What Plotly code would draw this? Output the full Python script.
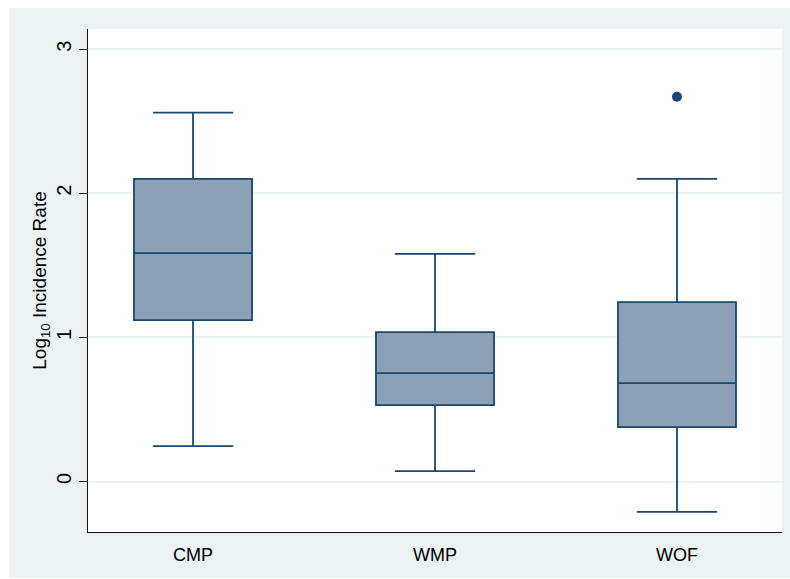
import plotly.graph_objects as go

# Summary statistics of log10 incidence rate by group
groups = ["CMP", "WMP", "WOF"]
lower_whisker = [0.246, 0.073, -0.21]
q1_vals = [1.12, 0.53, 0.378]
median_vals = [1.585, 0.752, 0.683]
q3_vals = [2.10, 1.037, 1.245]
upper_whisker = [2.56, 1.58, 2.10]

# Points beyond the whiskers
outlier_groups = ["WOF"]
outlier_vals = [2.67]

y_ticks = [0, 1, 2, 3]

navy = "#1a476f"
box_fill = "#8ca1b6"
bg_light = "#eaf2f3"

positions = list(range(len(groups)))
outlier_pos = [groups.index(g) for g in outlier_groups]

fig = go.Figure()
fig.add_trace(go.Box(
    x=positions,
    q1=q1_vals,
    median=median_vals,
    q3=q3_vals,
    lowerfence=lower_whisker,
    upperfence=upper_whisker,
    width=0.488,
    whiskerwidth=0.68,
    fillcolor=box_fill,
    line=dict(color=navy, width=1.8),
    boxpoints=False,
    showlegend=False,
    hoverinfo="skip",
))
fig.add_trace(go.Scatter(
    x=outlier_pos,
    y=outlier_vals,
    mode="markers",
    marker=dict(color=navy, size=10),
    showlegend=False,
    hoverinfo="skip",
))

# White border strips around the shaded outer region
white_strips = [
    dict(type="rect", xref="paper", yref="paper",
         x0=-0.2, x1=-0.1138, y0=-0.2, y1=1.2,
         fillcolor="white", line=dict(width=0), layer="below"),
    dict(type="rect", xref="paper", yref="paper",
         x0=-0.2, x1=1.2, y0=1.0417, y1=1.2,
         fillcolor="white", line=dict(width=0), layer="below"),
    dict(type="rect", xref="paper", yref="paper",
         x0=-0.2, x1=1.2, y0=-0.2, y1=-0.0915,
         fillcolor="white", line=dict(width=0), layer="below"),
]

fig.update_layout(
    width=790,
    height=579,
    margin=dict(l=88, r=8, t=29, b=47),
    paper_bgcolor=bg_light,
    plot_bgcolor="white",
    font=dict(family="Liberation Sans, Arial, sans-serif", size=18, color="#000"),
    shapes=white_strips,
    xaxis=dict(
        range=[-0.434, 2.434],
        tickmode="array",
        tickvals=positions,
        ticktext=groups,
        showgrid=False,
        zeroline=False,
        showline=True,
        linecolor="#111",
        linewidth=1,
        ticks="",
        ticklabelstandoff=6,
        tickfont=dict(size=18),
    ),
    yaxis=dict(
        range=[-0.35, 3.14],
        tickmode="array",
        tickvals=y_ticks,
        ticktext=[str(v) for v in y_ticks],
        tickangle=-90,
        showgrid=True,
        gridcolor=bg_light,
        gridwidth=1.5,
        zeroline=False,
        showline=True,
        linecolor="#111",
        linewidth=1,
        ticks="outside",
        ticklen=8,
        tickcolor="#111",
        tickfont=dict(size=20),
        title=dict(text="Log<sub>10</sub> Incidence Rate", font=dict(size=19), standoff=0),
    ),
)

fig.write_html("out.html")
